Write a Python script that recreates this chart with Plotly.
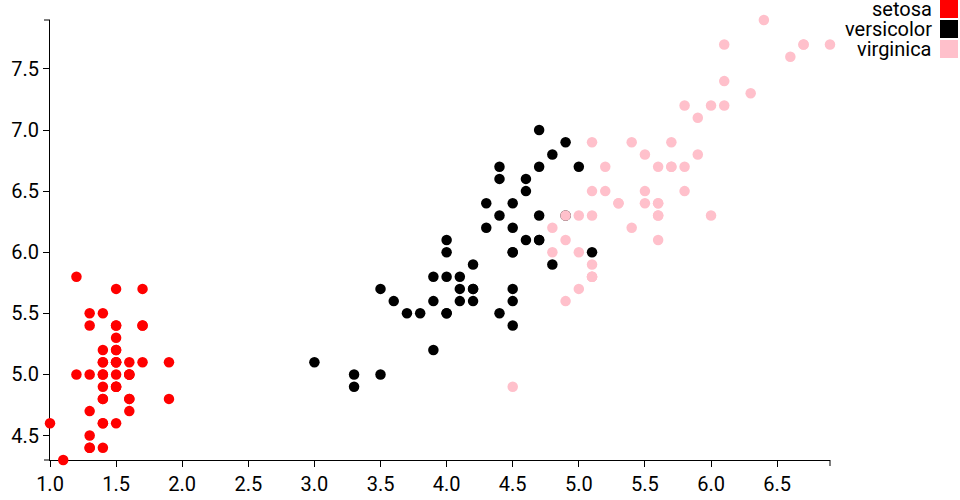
import plotly.graph_objects as go

species = ["setosa", "versicolor", "virginica"]
colors = ["#ff0000", "#000000", "#ffc0cb"]

setosa_petal_length = [1.4, 1.4, 1.3, 1.5, 1.4, 1.7, 1.4, 1.5, 1.4, 1.5, 1.5, 1.6, 1.4, 1.1, 1.2, 1.5, 1.3, 1.4, 1.7, 1.5,
                       1.7, 1.5, 1.0, 1.7, 1.9, 1.6, 1.6, 1.5, 1.4, 1.6, 1.6, 1.5, 1.5, 1.4, 1.5, 1.2, 1.3, 1.5, 1.3, 1.5,
                       1.3, 1.3, 1.3, 1.6, 1.9, 1.4, 1.6, 1.4, 1.5, 1.4]
setosa_sepal_length = [5.1, 4.9, 4.7, 4.6, 5.0, 5.4, 4.6, 5.0, 4.4, 4.9, 5.4, 4.8, 4.8, 4.3, 5.8, 5.7, 5.4, 5.1, 5.7, 5.1,
                       5.4, 5.1, 4.6, 5.1, 4.8, 5.0, 5.0, 5.2, 5.2, 4.7, 4.8, 5.4, 5.2, 5.5, 4.9, 5.0, 5.5, 4.9, 4.4, 5.1,
                       5.0, 4.5, 4.4, 5.0, 5.1, 4.8, 5.1, 4.6, 5.3, 5.0]

versicolor_petal_length = [4.7, 4.5, 4.9, 4.0, 4.6, 4.5, 4.7, 3.3, 4.6, 3.9, 3.5, 4.2, 4.0, 4.7, 3.6, 4.4, 4.5, 4.1, 4.5, 3.9,
                           4.8, 4.0, 4.9, 4.7, 4.3, 4.4, 4.8, 5.0, 4.5, 3.5, 3.8, 3.7, 3.9, 5.1, 4.5, 4.5, 4.7, 4.4, 4.1, 4.0,
                           4.4, 4.6, 4.0, 3.3, 4.2, 4.2, 4.2, 4.3, 3.0, 4.1]
versicolor_sepal_length = [7.0, 6.4, 6.9, 5.5, 6.5, 5.7, 6.3, 4.9, 6.6, 5.2, 5.0, 5.9, 6.0, 6.1, 5.6, 6.7, 5.6, 5.8, 6.2, 5.6,
                           5.9, 6.1, 6.3, 6.1, 6.4, 6.6, 6.8, 6.7, 6.0, 5.7, 5.5, 5.5, 5.8, 6.0, 5.4, 6.0, 6.7, 6.3, 5.6, 5.5,
                           5.5, 6.1, 5.8, 5.0, 5.6, 5.7, 5.7, 6.2, 5.1, 5.7]

virginica_petal_length = [6.0, 5.1, 5.9, 5.6, 5.8, 6.6, 4.5, 6.3, 5.8, 6.1, 5.1, 5.3, 5.5, 5.0, 5.1, 5.3, 5.5, 6.7, 6.9, 5.0,
                          5.7, 4.9, 6.7, 4.9, 5.7, 6.0, 4.8, 4.9, 5.6, 5.8, 6.1, 6.4, 5.6, 5.1, 5.6, 6.1, 5.6, 5.5, 4.8, 5.4,
                          5.6, 5.1, 5.1, 5.9, 5.7, 5.2, 5.0, 5.2, 5.4, 5.1]
virginica_sepal_length = [6.3, 5.8, 7.1, 6.3, 6.5, 7.6, 4.9, 7.3, 6.7, 7.2, 6.5, 6.4, 6.8, 5.7, 5.8, 6.4, 6.5, 7.7, 7.7, 6.0,
                          6.9, 5.6, 7.7, 6.3, 6.7, 7.2, 6.2, 6.1, 6.4, 7.2, 7.4, 7.9, 6.4, 6.3, 6.1, 7.7, 6.3, 6.4, 6.0, 6.9,
                          6.7, 6.9, 5.8, 6.8, 6.7, 6.7, 6.3, 6.5, 6.2, 5.9]

x_data = [setosa_petal_length, versicolor_petal_length, virginica_petal_length]
y_data = [setosa_sepal_length, versicolor_sepal_length, virginica_sepal_length]

FONT = "Roboto"
FS = 20
font = dict(family=FONT, size=FS, color="#000")

fig = go.Figure()
for name, col, xs, ys in zip(species, colors, x_data, y_data):
    fig.add_trace(go.Scatter(
        x=xs, y=ys, mode="markers", name=name,
        marker=dict(color=col, size=10.5, line=dict(width=0)),
        cliponaxis=False, hoverinfo="x+y+name",
    ))

W, H = 780, 440  # plot area in px
OX, OY = 50, 20  # plot area origin
ax_common = dict(
    showgrid=False, zeroline=False, showline=True, linecolor="#000", linewidth=1,
    ticks="outside", ticklen=6, tickwidth=1, tickcolor="#000",
    tickfont=font, tickformat=".1f",
    layer="below traces", automargin=False,
)
fig.update_xaxes(range=[1.0, 6.9], tick0=1.0, dtick=0.5, **ax_common)
fig.update_yaxes(range=[4.3, 7.9], tick0=4.5, dtick=0.5, **ax_common)

shapes = [
    # axis end caps (d3 style)
    dict(type="line", xref="paper", yref="paper", x0=-6 / W, x1=0, y0=1, y1=1, line=dict(color="#000", width=1)),
    dict(type="line", xref="paper", yref="paper", x0=-6 / W, x1=0, y0=0, y1=0, line=dict(color="#000", width=1)),
    dict(type="line", xref="paper", yref="paper", x0=1, x1=1, y0=0, y1=-6 / H, line=dict(color="#000", width=1)),
]
annotations = []
bottom = OY + H
for i, (name, col) in enumerate(zip(species, colors)):
    shapes.append(dict(type="rect", xref="paper", yref="paper",
                       x0=(940 - OX) / W, x1=(958 - OX) / W,
                       y0=(bottom - (i * 20 + 18)) / H,
                       y1=(bottom - i * 20) / H,
                       fillcolor=col, line=dict(width=0)))
    annotations.append(dict(xref="paper", yref="paper", x=(934 - OX) / W, y=(bottom - (i * 20 + 9)) / H,
                            text=name, showarrow=False, xanchor="right", yanchor="middle",
                            font=font))

fig.update_layout(
    width=960, height=500,
    margin=dict(l=OX, r=960 - OX - W, t=OY, b=500 - OY - H),
    plot_bgcolor="white", paper_bgcolor="white",
    showlegend=False, shapes=shapes, annotations=annotations,
)

fig.write_html("out.html", config={"displayModeBar": False},
               post_script="document.body.style.margin='0';")
